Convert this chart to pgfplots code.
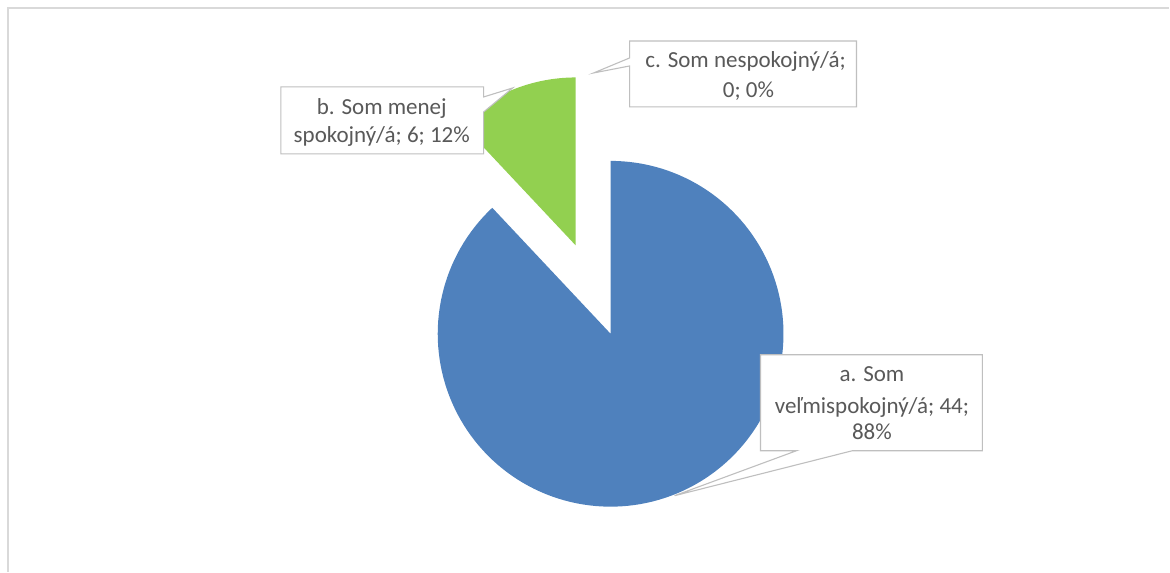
\documentclass[border=0pt]{standalone}
\usepackage{pgfplots}
\pgfplotsset{compat=1.18}
\usepackage{fontspec}
\setmainfont{Carlito}
\definecolor{pieblue}{HTML}{4F81BD}
\definecolor{piegreen}{HTML}{92D050}
\definecolor{boxgray}{HTML}{BFBFBF}
\definecolor{framegray}{HTML}{D9D9D9}
\definecolor{txt}{HTML}{595959}
% data: a = 44, b = 6, c = 0
\def\va{44}\def\vb{6}\def\vc{0}
\pgfmathsetmacro\angA{\va/(\va+\vb+\vc)*360}
\pgfmathsetmacro\angB{(\va+\vb)/(\va+\vb+\vc)*360}
\begin{document}
\begin{tikzpicture}
\begin{axis}[x=1pt, y=1pt, y dir=reverse, xmin=0, xmax=1170, ymin=0, ymax=572,
  hide axis, clip=false, scale only axis]
\path (axis cs:0,0) rectangle (axis cs:1170,572);
% frame
\draw[framegray, line width=1.5pt] (axis cs:8,572) -- (axis cs:8,8) -- (axis cs:1170,8);
% slice a (blue)
\addplot[draw=none, fill=pieblue, domain=0:\angA, samples=150]
  ({611+173*sin(x)},{334-173*cos(x)}) -- (axis cs:611,334) -- cycle;
% slice b (green, exploded)
\addplot[draw=none, fill=piegreen, domain=\angA:\angB, samples=40]
  ({576+168*sin(x)},{245.5-168*cos(x)}) -- (axis cs:576,245.5) -- cycle;
% callouts
\draw[boxgray, fill=white, line width=1.1pt] (axis cs:281,87) -- (axis cs:484,87) -- (axis cs:484,97) -- (axis cs:513,88) -- (axis cs:484,112) -- (axis cs:484,154) -- (axis cs:281,154) -- cycle;
\draw[boxgray, fill=white, line width=1.1pt] (axis cs:630,41) -- (axis cs:857,41) -- (axis cs:857,107) -- (axis cs:630,107) -- (axis cs:630,66) -- (axis cs:594,73) -- (axis cs:630,58) -- cycle;
\draw[boxgray, fill=white, line width=1.1pt] (axis cs:761,355) -- (axis cs:983,355) -- (axis cs:983,451) -- (axis cs:853,451) -- (axis cs:675,496) -- (axis cs:797,451) -- (axis cs:761,451) -- cycle;
\begin{scope}[every node/.style={anchor=base, inner sep=0pt, text=txt, font=\fontsize{23}{28}\selectfont}]
\node at (axis cs:382,115) {b. Som menej};
\node at (axis cs:382,143) {spokojný/á; 6; 12\%};
\node at (axis cs:746,67.5) {c. Som nespokojný/á;};
\node at (axis cs:749,98) {0; 0\%};
\node at (axis cs:872.5,382) {a. Som};
\node at (axis cs:872.5,414) {veľmispokojný/á; 44;};
\node at (axis cs:872.5,440) {88\%};
\end{scope}
\end{axis}
\end{tikzpicture}
\end{document}
